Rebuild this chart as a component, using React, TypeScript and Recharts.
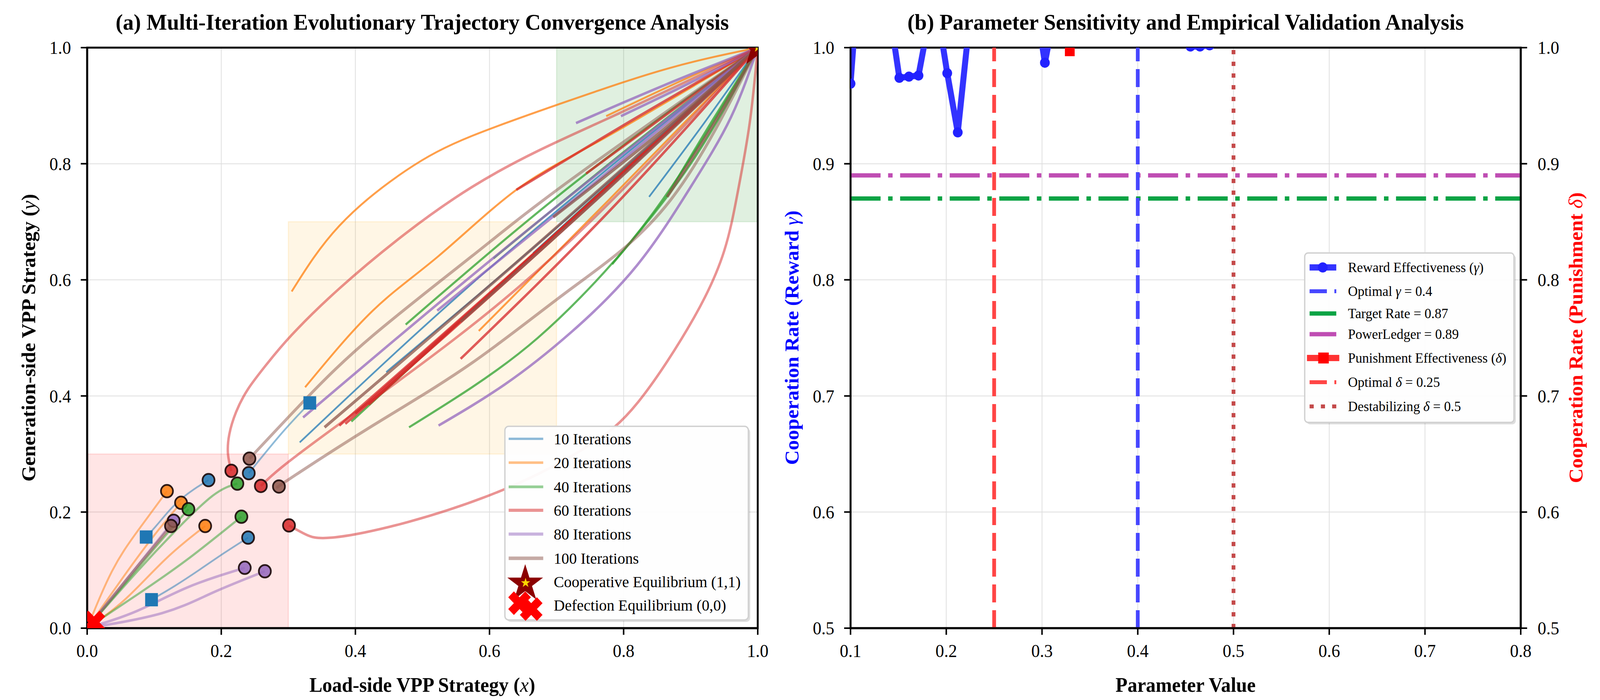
import React from 'react';
import {
  ComposedChart,
  Line,
  Scatter,
  XAxis,
  YAxis,
  CartesianGrid,
  ReferenceArea,
  ReferenceLine,
  Legend,
} from 'recharts';

const FONT = '"Liberation Serif", "Times New Roman", Times, serif';
// the photographed area is 4096px wide, so the 4259px layout is squeezed to fit it
const FIT_X = 4096 / 4259;

type Pt = [number, number];

// ---------- panel (a): evolutionary trajectories ----------
const iterLabels = ['10 Iterations', '20 Iterations', '40 Iterations', '60 Iterations', '80 Iterations', '100 Iterations'];
const iterColors = ['#1f77b4', '#ff7f0e', '#2ca02c', '#d62728', '#9467bd', '#8c564b'];
const iterWidths = [4.5, 5, 5.5, 6.5, 6.5, 7.5];

// initial points (circles) of each iteration group
const starts10: Pt[] = [[0.181, 0.255], [0.241, 0.267], [0.240, 0.156]];
const starts20: Pt[] = [[0.119, 0.236], [0.140, 0.216], [0.176, 0.176]];
const starts40: Pt[] = [[0.151, 0.205], [0.224, 0.249], [0.230, 0.192]];
const starts60: Pt[] = [[0.215, 0.271], [0.259, 0.245], [0.301, 0.177]];
const starts80: Pt[] = [[0.129, 0.185], [0.235, 0.104], [0.265, 0.098]];
const starts100: Pt[] = [[0.125, 0.176], [0.242, 0.292], [0.286, 0.244]];

// end points of the 10-iteration runs (squares)
const ends10: Pt[] = [[0.088, 0.157], [0.332, 0.388], [0.096, 0.049]];

// trajectories leaving the marked initial points
const paths10: Pt[][] = [
  [[0.088, 0.157], [0.105, 0.179], [0.131, 0.213], [0.159, 0.239], [0.181, 0.255]],
  [[0.241, 0.267], [0.291, 0.337], [0.332, 0.388]],
  [[0.096, 0.049], [0.131, 0.073], [0.168, 0.101], [0.205, 0.130], [0.240, 0.156]],
];
const paths20: Pt[][] = [
  [[0, 0], [0.037, 0.098], [0.075, 0.167], [0.119, 0.236]],
  [[0, 0], [0.055, 0.090], [0.100, 0.160], [0.140, 0.216]],
  [[0, 0], [0.056, 0.049], [0.116, 0.118], [0.176, 0.176]],
];
const paths40: Pt[][] = [
  [[0, 0], [0.05, 0.068], [0.10, 0.137], [0.151, 0.205]],
  [[0, 0], [0.075, 0.098], [0.131, 0.167], [0.187, 0.228], [0.224, 0.249]],
  [[0, 0], [0.075, 0.058], [0.149, 0.118], [0.230, 0.192]],
];
const paths60: Pt[][] = [
  [[0.215, 0.271], [0.210, 0.300], [0.212, 0.334], [0.222, 0.372], [0.240, 0.412], [0.268, 0.455], [0.305, 0.505],
    [0.376, 0.585], [0.475, 0.680], [0.574, 0.760], [0.672, 0.822], [0.771, 0.875], [0.869, 0.928], [1, 1]],
  [[0.259, 0.245], [0.291, 0.278], [0.38, 0.355], [0.55, 0.50], [0.75, 0.70], [1, 1]],
  [[0.301, 0.177], [0.325, 0.162], [0.365, 0.156], [0.479, 0.183], [0.632, 0.244], [0.746, 0.313], [0.822, 0.390],
    [0.905, 0.535], [0.950, 0.650], [0.970, 0.750], [0.988, 0.870], [1, 1]],
];
const paths80: Pt[][] = [
  [[0, 0], [0.065, 0.093], [0.129, 0.185]],
  [[0, 0], [0.075, 0.030], [0.149, 0.070], [0.235, 0.104]],
  [[0, 0], [0.112, 0.026], [0.187, 0.061], [0.265, 0.098]],
];
const paths100: Pt[][] = [
  [[0, 0], [0.062, 0.088], [0.125, 0.176]],
  [[0.242, 0.292], [0.327, 0.396], [0.426, 0.504], [0.574, 0.641], [0.722, 0.773], [1, 1]],
  [[0.286, 0.244], [0.303, 0.258], [0.426, 0.349], [0.574, 0.457], [0.722, 0.585], [0.869, 0.736], [1, 1]],
];

// trajectories from unmarked interior starts
const free10: Pt[][] = [
  [[0.317, 0.320], [0.62, 0.64], [1, 1]],
  [[0.446, 0.441], [0.72, 0.71], [1, 1]],
  [[0.665, 0.646], [0.83, 0.82], [1, 1]],
  [[0.838, 0.743], [0.92, 0.87], [1, 1]],
];
const free20: Pt[][] = [
  [[0.305, 0.580], [0.376, 0.693], [0.475, 0.788], [0.574, 0.848], [0.722, 0.910], [0.869, 0.965], [1, 1]],
  [[0.325, 0.415], [0.426, 0.547], [0.524, 0.641], [0.640, 0.755], [0.771, 0.844], [1, 1]],
  [[0.584, 0.512], [0.78, 0.74], [1, 1]],
  [[0.774, 0.882], [0.89, 0.945], [1, 1]],
];
const free40: Pt[][] = [
  [[0.480, 0.346], [0.574, 0.415], [0.672, 0.500], [0.771, 0.613], [0.845, 0.717], [0.919, 0.844], [1, 1]],
  [[0.783, 0.627], [0.90, 0.80], [1, 1]],
  [[0.475, 0.523], [0.73, 0.77], [1, 1]],
  [[0.606, 0.637], [0.80, 0.82], [1, 1]],
  [[0.394, 0.356], [0.68, 0.66], [1, 1]],
  [[0.864, 0.743], [0.93, 0.87], [1, 1]],
];
const free60: Pt[][] = [
  [[0.376, 0.349], [0.68, 0.66], [1, 1]],
  [[0.385, 0.352], [0.69, 0.665], [1, 1]],
  [[0.400, 0.370], [0.70, 0.68], [1, 1]],
  [[0.420, 0.385], [0.71, 0.69], [1, 1]],
  [[0.557, 0.464], [0.78, 0.72], [1, 1]],
  [[0.640, 0.755], [0.82, 0.88], [1, 1]],
  [[0.744, 0.783], [0.87, 0.89], [1, 1]],
];
const free80: Pt[][] = [
  [[0.524, 0.349], [0.623, 0.420], [0.722, 0.510], [0.820, 0.625], [0.900, 0.760], [0.960, 0.880], [1, 1]],
  [[0.322, 0.363], [0.64, 0.67], [1, 1]],
  [[0.522, 0.547], [0.76, 0.77], [1, 1]],
  [[0.729, 0.870], [0.86, 0.935], [1, 1]],
  [[0.796, 0.882], [0.90, 0.94], [1, 1]],
];
const free100: Pt[][] = [
  [[0.354, 0.346], [0.67, 0.66], [1, 1]],
  [[0.695, 0.708], [0.85, 0.85], [1, 1]],
  [[0.557, 0.528], [0.78, 0.76], [1, 1]],
  [[0.865, 0.743], [0.935, 0.87], [1, 1]],
];

const coopEq: Pt[] = [[1, 1]];
const defectEq: Pt[] = [[0.01, 0.01]];
const ticksA = [0, 0.2, 0.4, 0.6, 0.8, 1.0];

// ---------- panel (b): parameter sensitivity ----------
const rewardX = [
  0.100, 0.110, 0.120, 0.130, 0.141, 0.151, 0.161, 0.171, 0.181, 0.191,
  0.201, 0.212, 0.222, 0.232, 0.242, 0.252, 0.262, 0.272, 0.283, 0.293,
  0.303, 0.313, 0.323, 0.333, 0.343, 0.354, 0.364, 0.374, 0.384, 0.394,
  0.404, 0.414, 0.425, 0.435, 0.445, 0.455, 0.465, 0.475, 0.486, 0.496,
  0.506, 0.516, 0.526, 0.536, 0.546, 0.557, 0.567, 0.577, 0.587, 0.597,
  0.607, 0.617, 0.628, 0.638, 0.648, 0.658, 0.668, 0.678, 0.688, 0.699,
  0.709, 0.719, 0.729, 0.739, 0.749, 0.759, 0.770, 0.780, 0.790, 0.800,
];
const rewardY = [
  0.969, 1.080, 1.120, 1.090, 1.030, 0.974, 0.975, 0.976, 1.020, 1.030,
  0.978, 0.927, 1.005, 1.090, 1.140, 1.110, 1.070, 1.120, 1.150, 1.040,
  0.987, 1.030, 1.100, 1.130, 1.080, 1.060, 1.110, 1.140, 1.120, 1.090,
  1.070, 1.100, 1.080, 1.060, 1.040, 1.001, 1.001, 1.002, 1.050, 1.090,
  1.120, 1.100, 1.130, 1.150, 1.110, 1.080, 1.120, 1.140, 1.100, 1.090,
  1.130, 1.160, 1.120, 1.100, 1.140, 1.170, 1.130, 1.110, 1.150, 1.180,
  1.140, 1.120, 1.160, 1.190, 1.150, 1.130, 1.170, 1.200, 1.160, 1.140,
];
const punishX = [
  0.100, 0.114, 0.129, 0.143, 0.157, 0.171, 0.186, 0.200, 0.214, 0.229,
  0.243, 0.257, 0.271, 0.286, 0.300, 0.314, 0.329, 0.343, 0.357, 0.371,
  0.386, 0.400, 0.414, 0.429, 0.443, 0.457, 0.471, 0.486, 0.500, 0.514,
  0.529, 0.543, 0.557, 0.571, 0.586, 0.600, 0.614, 0.629, 0.643, 0.657,
  0.671, 0.686, 0.700, 0.714, 0.729, 0.743, 0.757, 0.771, 0.786, 0.800,
];
const punishY = [
  1.12, 1.18, 1.25, 1.21, 1.15, 1.19, 1.24, 1.28, 1.22, 1.17,
  1.20, 1.26, 1.23, 1.18, 1.14, 1.21, 0.997, 1.19, 1.24, 1.27,
  1.22, 1.18, 1.23, 1.29, 1.25, 1.20, 1.17, 1.22, 1.26, 1.31,
  1.27, 1.23, 1.19, 1.24, 1.28, 1.33, 1.29, 1.25, 1.21, 1.26,
  1.30, 1.34, 1.31, 1.27, 1.23, 1.28, 1.32, 1.36, 1.33, 1.29,
];
const optimalGamma = 0.4;
const optimalDelta = 0.25;
const destabDelta = 0.5;
const targetRate = 0.87;
const powerLedger = 0.89;
const ticksBX = [0.1, 0.2, 0.3, 0.4, 0.5, 0.6, 0.7, 0.8];
const ticksBY = [0.5, 0.6, 0.7, 0.8, 0.9, 1.0];

// ---------- helpers ----------
const toPts = (p: Pt[]) => p.map(([x, y]) => ({ x, y }));
const zip = (xs: number[], ys: number[]) => xs.map((x, i) => ({ x, y: ys[i] }));

const starPath = (cx: number, cy: number, R: number) => {
  const r = R * 0.382;
  let d = '';
  for (let i = 0; i < 10; i++) {
    const a = (Math.PI / 5) * i - Math.PI / 2;
    const rad = i % 2 === 0 ? R : r;
    d += `${i === 0 ? 'M' : 'L'}${cx + rad * Math.cos(a)},${cy + rad * Math.sin(a)}`;
  }
  return d + 'Z';
};

const xPath = (cx: number, cy: number, L: number) => {
  const t = L / 3;
  const base = [[-t, -L], [t, -L], [t, -t], [L, -t], [L, t], [t, t], [t, L], [-t, L], [-t, t], [-L, t], [-L, -t], [-t, -t]];
  const s = Math.SQRT1_2;
  return base.map(([x, y], i) => `${i === 0 ? 'M' : 'L'}${cx + (x - y) * s},${cy + (x + y) * s}`).join('') + 'Z';
};

const groups = [
  { starts: starts10, paths: paths10, free: free10 },
  { starts: starts20, paths: paths20, free: free20 },
  { starts: starts40, paths: paths40, free: free40 },
  { starts: starts60, paths: paths60, free: free60 },
  { starts: starts80, paths: paths80, free: free80 },
  { starts: starts100, paths: paths100, free: free100 },
];

const tickStyle = { fontSize: 46, fill: '#000', fontFamily: FONT };
const axisLine = { stroke: '#000', strokeWidth: 5 };
const tickLine = { stroke: '#000', strokeWidth: 4 };
const fmt1 = (v: number) => v.toFixed(1);

// ---------- legends ----------
const rowsA = [34, 95, 157, 217, 278, 340, 400, 460];

const IterLegend = () => (
  <svg width={662} height={510} style={{ fontFamily: FONT, overflow: 'visible' }}>
    <rect x={7} y={7} width={648} height={496} rx={10} fill="#000" fillOpacity={0.13} />
    <rect x={2} y={2} width={648} height={496} rx={10} fill="#fff" fillOpacity={0.95} stroke="#d0d0d0" strokeWidth={3.5} />
    {iterLabels.map((lab, i) => (
      <g key={lab}>
        <line x1={12} x2={104} y1={rowsA[i]} y2={rowsA[i]} stroke={iterColors[i]} strokeOpacity={0.5} strokeWidth={iterWidths[i] + 1.5} />
        <text x={132} y={rowsA[i]} dominantBaseline="central" fontSize={41} fill="#000">{lab}</text>
      </g>
    ))}
    <path d={starPath(56, 405, 50)} fill="#8b0000" />
    <path d={starPath(57, 403, 13)} fill="#ffd700" />
    <text x={132} y={rowsA[6]} dominantBaseline="central" fontSize={41} fill="#000">Cooperative Equilibrium (1,1)</text>
    <path d={xPath(41, 455, 32)} fill="#ff0000" />
    <path d={xPath(72, 470, 32)} fill="#ff0000" />
    <text x={132} y={rowsA[7]} dominantBaseline="central" fontSize={41} fill="#000">Defection Equilibrium (0,0)</text>
  </svg>
);

const rowsB = [39, 100, 157, 210, 271, 333, 395];
const greek = (s: string) => <tspan fontStyle="italic">{s}</tspan>;

const ParamLegend = () => (
  <svg width={566} height={444} style={{ fontFamily: FONT, overflow: 'visible' }}>
    <rect x={7} y={7} width={557} height={434} rx={9} fill="#000" fillOpacity={0.13} />
    <rect x={2} y={2} width={557} height={434} rx={9} fill="#fff" fillOpacity={0.95} stroke="#d0d0d0" strokeWidth={3.5} />
    <line x1={15} x2={86} y1={rowsB[0]} y2={rowsB[0]} stroke="#3333ff" strokeWidth={16} />
    <circle cx={50} cy={rowsB[0]} r={13} fill="#2222ff" />
    <text x={117} y={rowsB[0]} dominantBaseline="central" fontSize={36}>Reward Effectiveness ({greek('γ')})</text>
    <line x1={15} x2={86} y1={rowsB[1]} y2={rowsB[1]} stroke="#4646ff" strokeWidth={10} strokeDasharray="46 20" />
    <text x={117} y={rowsB[1]} dominantBaseline="central" fontSize={36}>Optimal {greek('γ')} = {optimalGamma}</text>
    <line x1={15} x2={86} y1={rowsB[2]} y2={rowsB[2]} stroke="#0aa344" strokeWidth={11} />
    <text x={117} y={rowsB[2]} dominantBaseline="central" fontSize={36}>Target Rate = {targetRate}</text>
    <line x1={15} x2={86} y1={rowsB[3]} y2={rowsB[3]} stroke="#bf4db3" strokeWidth={11} />
    <text x={117} y={rowsB[3]} dominantBaseline="central" fontSize={36}>PowerLedger = {powerLedger}</text>
    <line x1={8} x2={94} y1={rowsB[4]} y2={rowsB[4]} stroke="#ff3333" strokeWidth={16} />
    <rect x={38} y={rowsB[4] - 14} width={28} height={28} fill="#ff0000" />
    <text x={117} y={rowsB[4]} dominantBaseline="central" fontSize={36}>Punishment Effectiveness ({greek('δ')})</text>
    <line x1={15} x2={86} y1={rowsB[5]} y2={rowsB[5]} stroke="#ff4545" strokeWidth={10} strokeDasharray="46 20" />
    <text x={117} y={rowsB[5]} dominantBaseline="central" fontSize={36}>Optimal {greek('δ')} = {optimalDelta}</text>
    <line x1={15} x2={86} y1={rowsB[6]} y2={rowsB[6]} stroke="#c44a4a" strokeWidth={10} strokeDasharray="11 19" />
    <text x={117} y={rowsB[6]} dominantBaseline="central" fontSize={36}>Destabilizing {greek('δ')} = {destabDelta}</text>
  </svg>
);

// ---------- panels ----------
const PanelA = () => (
  <ComposedChart width={2130} height={1793} margin={{ top: 122, right: 113, bottom: 84, left: 132 }}>
    <ReferenceArea x1={0} x2={0.3} y1={0} y2={0.3} fill="#ff0000" fillOpacity={0.1} stroke="#ff0000" strokeOpacity={0.12} strokeWidth={3} />
    <ReferenceArea x1={0.3} x2={0.7} y1={0.3} y2={0.7} fill="#ffa500" fillOpacity={0.1} stroke="#ffa500" strokeOpacity={0.12} strokeWidth={3} />
    <ReferenceArea x1={0.7} x2={1} y1={0.7} y2={1} fill="#008000" fillOpacity={0.12} stroke="#008000" strokeOpacity={0.1} strokeWidth={3} />
    <CartesianGrid stroke="#dddddd" strokeOpacity={0.8} strokeWidth={2.5} />
    <XAxis type="number" dataKey="x" domain={[0, 1]} ticks={ticksA} interval={0} allowDataOverflow
      tickFormatter={fmt1} tick={tickStyle} tickSize={17} tickMargin={24} axisLine={axisLine} tickLine={tickLine} height={100} />
    <YAxis type="number" domain={[0, 1]} ticks={ticksA} interval={0} allowDataOverflow
      tickFormatter={fmt1} tick={tickStyle} tickSize={17} tickMargin={26} axisLine={axisLine} tickLine={tickLine} width={100} />
    {groups.map((g, gi) =>
      g.free.map((p, pi) => (
        <Line key={`f${gi}-${pi}`} data={toPts(p)} dataKey="y" type="natural" stroke={iterColors[gi]} strokeOpacity={0.75}
          strokeWidth={iterWidths[gi]} dot={false} activeDot={false} isAnimationActive={false} legendType="none" />
      )),
    )}
    {groups.map((g, gi) =>
      g.paths.map((p, pi) => (
        <Line key={`p${gi}-${pi}`} data={toPts(p)} dataKey="y" type="natural" stroke={iterColors[gi]} strokeOpacity={0.5}
          strokeWidth={iterWidths[gi]} dot={false} activeDot={false} isAnimationActive={false} legendType="none" />
      )),
    )}
    <Scatter data={toPts(ends10)} dataKey="y" isAnimationActive={false} legendType="none"
      shape={(p: any) => <rect x={p.cx - 17} y={p.cy - 17} width={34} height={34} fill="#1f77b4" />} />
    {groups.map((g, gi) => (
      <Scatter key={`c${gi}`} data={toPts(g.starts)} dataKey="y" isAnimationActive={false} legendType="none"
        shape={(p: any) => (
          <circle cx={p.cx} cy={p.cy} r={16} fill={iterColors[gi]} fillOpacity={0.85} stroke="#1a0808" strokeOpacity={0.9} strokeWidth={4.5} />
        )} />
    ))}
    <Scatter data={toPts(coopEq)} dataKey="y" isAnimationActive={false} legendType="none"
      shape={(p: any) => (
        <g>
          <path d={starPath(p.cx, p.cy, 52)} fill="#8b0000" />
          <path d={starPath(p.cx, p.cy, 13)} fill="#ffd700" />
        </g>
      )} />
    <Scatter data={toPts(defectEq)} dataKey="y" isAnimationActive={false} legendType="none"
      shape={(p: any) => <path d={xPath(p.cx, p.cy, 32)} fill="#ff0000" />} />
    <ReferenceArea x1={0} x2={1} y1={0} y2={1} fill="none" stroke="#000" strokeWidth={5} />
    <Legend content={IterLegend} layout="vertical" align="center" verticalAlign="middle"
      wrapperStyle={{ position: 'absolute', left: 1342, top: 1090, width: 662, height: 510 }} />
  </ComposedChart>
);

const PanelB = () => (
  <ComposedChart width={2129} height={1793} margin={{ top: 122, right: 111, bottom: 84, left: 34 }}>
    <CartesianGrid yAxisId="left" stroke="#dddddd" strokeOpacity={0.8} strokeWidth={2.5} />
    <XAxis type="number" dataKey="x" domain={[0.1, 0.8]} ticks={ticksBX} interval={0} allowDataOverflow
      tickFormatter={fmt1} tick={tickStyle} tickSize={17} tickMargin={24} axisLine={axisLine} tickLine={tickLine} height={100} />
    <YAxis yAxisId="left" type="number" domain={[0.5, 1]} ticks={ticksBY} interval={0} allowDataOverflow
      tickFormatter={fmt1} tick={tickStyle} tickSize={17} tickMargin={26} axisLine={axisLine} tickLine={tickLine} width={100} />
    <YAxis yAxisId="right" orientation="right" type="number" domain={[0.5, 1]} ticks={ticksBY} interval={0} allowDataOverflow
      tickFormatter={fmt1} tick={tickStyle} tickSize={17} tickMargin={28} axisLine={axisLine} tickLine={tickLine} width={100} />
    <ReferenceLine yAxisId="left" y={targetRate} stroke="#0aa344" strokeWidth={11} strokeDasharray="80 20 12 20" />
    <ReferenceLine yAxisId="left" y={powerLedger} stroke="#bf4db3" strokeWidth={11} strokeDasharray="80 20 12 20" />
    <ReferenceLine yAxisId="left" x={optimalDelta} stroke="#ff4545" strokeWidth={10} strokeDasharray="46 20" />
    <ReferenceLine yAxisId="left" x={optimalGamma} stroke="#4646ff" strokeWidth={10} strokeDasharray="46 20" />
    <ReferenceLine yAxisId="left" x={destabDelta} stroke="#c44a4a" strokeWidth={10} strokeDasharray="11 19" />
    <Line yAxisId="left" data={zip(rewardX, rewardY)} dataKey="y" type="linear" stroke="#3333ff" strokeWidth={16}
      dot={{ r: 13, fill: '#2222ff', stroke: '#2222ff', strokeWidth: 0 }} activeDot={false} isAnimationActive={false} legendType="none" />
    <Line yAxisId="right" data={zip(punishX, punishY)} dataKey="y" type="linear" stroke="#ff3333" strokeWidth={16}
      dot={(p: any) => <rect key={`pd-${p.index}`} x={p.cx - 13} y={p.cy - 13} width={26} height={26} fill="#ff0000" />}
      activeDot={false} isAnimationActive={false} legendType="none" />
    <ReferenceArea yAxisId="left" x1={0.1} x2={0.8} y1={0.5} y2={1} fill="none" stroke="#000" strokeWidth={5} />
    <Legend content={ParamLegend} layout="vertical" align="center" verticalAlign="middle"
      wrapperStyle={{ position: 'absolute', left: 1341, top: 646, width: 566, height: 444 }} />
  </ComposedChart>
);

const Overlay = () => (
  <svg width={4259} height={1793} style={{ position: 'absolute', left: 0, top: 0, pointerEvents: 'none' }}
    fontFamily={FONT}>
    <text x={1124} y={76} textAnchor="middle" fontSize={58} fontWeight="bold">
      (a) Multi-Iteration Evolutionary Trajectory Convergence Analysis
    </text>
    <text x={3156} y={76} textAnchor="middle" fontSize={58} fontWeight="bold">
      (b) Parameter Sensitivity and Empirical Validation Analysis
    </text>
    <text x={1124} y={1772} textAnchor="middle" fontSize={52} fontWeight="bold">
      Load-side VPP Strategy (<tspan fontStyle="italic" fontWeight="normal">x</tspan>)
    </text>
    <text x={3156} y={1772} textAnchor="middle" fontSize={52} fontWeight="bold">Parameter Value</text>
    <text transform="translate(76,865) rotate(-90)" textAnchor="middle" dominantBaseline="central" fontSize={52} fontWeight="bold">
      Generation-side VPP Strategy (<tspan fontStyle="italic" fontWeight="normal">y</tspan>)
    </text>
    <text transform="translate(2108,865) rotate(-90)" textAnchor="middle" dominantBaseline="central" fontSize={52}
      fontWeight="bold" fill="#0000ff">
      Cooperation Rate (Reward <tspan fontStyle="italic" fontWeight="normal">γ</tspan>)
    </text>
    <text transform="translate(4195,865) rotate(-90)" textAnchor="middle" dominantBaseline="central" fontSize={52}
      fontWeight="bold" fill="#ff0000">
      Cooperation Rate (Punishment <tspan fontStyle="italic" fontWeight="normal">δ</tspan>)
    </text>
  </svg>
);

export default function App() {
  return (
    <div
      style={{
        position: 'absolute',
        left: 0,
        top: 0,
        width: 4259,
        height: 1793,
        background: '#fff',
        fontFamily: FONT,
        transform: `scaleX(${FIT_X})`,
        transformOrigin: '0 0',
      }}
    >
      <div style={{ position: 'absolute', left: 0, top: 0 }}>
        <PanelA />
      </div>
      <div style={{ position: 'absolute', left: 2130, top: 0 }}>
        <PanelB />
      </div>
      <Overlay />
    </div>
  );
}
